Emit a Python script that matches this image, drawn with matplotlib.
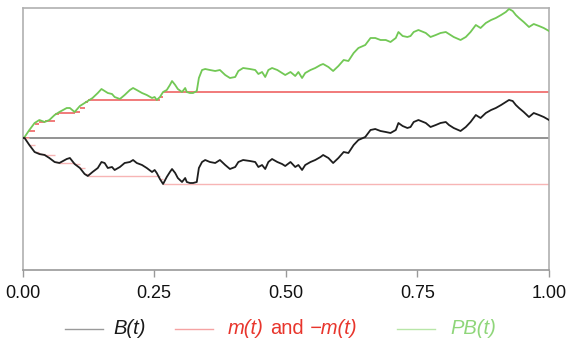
import numpy as np
import matplotlib
matplotlib.use("Agg")
import matplotlib.pyplot as plt
from matplotlib.lines import Line2D

plt.rcParams['font.family'] = ['Liberation Sans', 'DejaVu Sans']

# time grid
t = [0.000, 0.004, 0.013, 0.023, 0.032, 0.042, 0.051, 0.061, 0.070, 0.084,
     0.090, 0.099, 0.109, 0.118, 0.124, 0.133, 0.143, 0.150, 0.156, 0.162,
     0.170, 0.175, 0.185, 0.194, 0.204, 0.210, 0.217, 0.227, 0.236, 0.246,
     0.251, 0.255, 0.261, 0.267, 0.274, 0.280, 0.284, 0.290, 0.295, 0.303,
     0.309, 0.312, 0.318, 0.324, 0.331, 0.335, 0.341, 0.347, 0.356, 0.366,
     0.375, 0.385, 0.394, 0.404, 0.410, 0.419, 0.432, 0.442, 0.448, 0.455,
     0.461, 0.467, 0.474, 0.484, 0.493, 0.499, 0.509, 0.518, 0.524, 0.531,
     0.537, 0.547, 0.556, 0.566, 0.571, 0.581, 0.590, 0.600, 0.610, 0.619,
     0.629, 0.638, 0.651, 0.661, 0.670, 0.680, 0.690, 0.699, 0.709, 0.714,
     0.722, 0.731, 0.737, 0.743, 0.752, 0.766, 0.775, 0.785, 0.794, 0.804,
     0.810, 0.819, 0.832, 0.842, 0.851, 0.861, 0.870, 0.880, 0.890, 0.899,
     0.909, 0.918, 0.924, 0.931, 0.937, 0.943, 0.952, 0.962, 0.971, 0.981,
     0.990, 1.000]

# B(t)
b_vals = [0.00, 0.00, -0.07, -0.14, -0.16, -0.17, -0.20, -0.24, -0.25, -0.21,
          -0.20, -0.26, -0.30, -0.36, -0.38, -0.34, -0.30, -0.24, -0.25, -0.30,
          -0.29, -0.32, -0.29, -0.25, -0.24, -0.22, -0.25, -0.27, -0.30, -0.34,
          -0.32, -0.35, -0.41, -0.46, -0.39, -0.34, -0.31, -0.35, -0.40, -0.44,
          -0.40, -0.44, -0.45, -0.45, -0.44, -0.30, -0.24, -0.22, -0.24, -0.25,
          -0.22, -0.27, -0.31, -0.29, -0.24, -0.22, -0.23, -0.24, -0.29, -0.27,
          -0.31, -0.24, -0.21, -0.24, -0.26, -0.28, -0.24, -0.29, -0.27, -0.32,
          -0.27, -0.24, -0.22, -0.19, -0.17, -0.20, -0.25, -0.20, -0.14, -0.15,
          -0.07, -0.02, 0.01, 0.08, 0.09, 0.07, 0.06, 0.05, 0.08, 0.15,
          0.12, 0.10, 0.11, 0.16, 0.18, 0.15, 0.11, 0.13, 0.15, 0.16,
          0.13, 0.10, 0.07, 0.11, 0.16, 0.23, 0.20, 0.25, 0.28, 0.30,
          0.33, 0.36, 0.38, 0.37, 0.33, 0.30, 0.26, 0.21, 0.25, 0.23,
          0.21, 0.18]

# PB(t)
pb_vals = [0.00, 0.01, 0.08, 0.15, 0.18, 0.16, 0.18, 0.23, 0.26, 0.30,
           0.30, 0.26, 0.32, 0.35, 0.37, 0.40, 0.45, 0.49, 0.47, 0.45,
           0.44, 0.41, 0.39, 0.43, 0.48, 0.50, 0.48, 0.45, 0.43, 0.40,
           0.41, 0.38, 0.41, 0.46, 0.48, 0.53, 0.57, 0.53, 0.49, 0.46,
           0.50, 0.46, 0.45, 0.45, 0.47, 0.60, 0.68, 0.69, 0.68, 0.67,
           0.68, 0.63, 0.60, 0.61, 0.67, 0.70, 0.69, 0.68, 0.64, 0.66,
           0.61, 0.68, 0.70, 0.68, 0.65, 0.63, 0.66, 0.62, 0.66, 0.60,
           0.65, 0.68, 0.70, 0.73, 0.74, 0.71, 0.67, 0.72, 0.78, 0.77,
           0.85, 0.90, 0.93, 1.00, 1.00, 0.98, 0.98, 0.96, 1.00, 1.06,
           1.02, 1.01, 1.02, 1.06, 1.08, 1.05, 1.01, 1.03, 1.05, 1.06,
           1.04, 1.01, 0.98, 1.01, 1.06, 1.13, 1.10, 1.15, 1.18, 1.20,
           1.23, 1.26, 1.29, 1.27, 1.23, 1.20, 1.16, 1.11, 1.14, 1.12,
           1.10, 1.07]

# m(t) as steps (level holds from m_t[i] to m_t[i+1])
m_t = [0.0, 0.013, 0.023, 0.032, 0.042, 0.061, 0.070, 0.099, 0.109, 0.118,
       0.124, 0.261, 0.267, 1.0]
m_vals = [0.0, 0.07, 0.14, 0.16, 0.17, 0.24, 0.25, 0.26, 0.30, 0.36,
          0.38, 0.41, 0.46, 0.46]

x_ticks = [0.0, 0.25, 0.5, 0.75, 1.0]
x_labels = ['0.00', '0.25', '0.50', '0.75', '1.00']

W, H = 567, 338
fig = plt.figure(figsize=(W / 100, H / 100), dpi=100)
ax = fig.add_axes([22.5 / W, 1 - 270 / H, 526.5 / W, 262 / H])

m_arr = np.array(m_vals)
ax.axhline(0, color='#8a8a8a', lw=1.3, zorder=1)
ax.hlines(m_arr[:-1], m_t[:-1], m_t[1:], color='#f07070', lw=1.3, zorder=2)
ax.hlines(-m_arr[:-1], m_t[:-1], m_t[1:], color='#f7b5b5', lw=1.0, zorder=2)
ax.plot(t, pb_vals, color='#72c855', lw=1.3, zorder=3)
ax.plot(t, b_vals, color='#1e1e1e', lw=1.3, zorder=4)

ax.set_xlim(0, 1)
ax.set_ylim(-1.32, 1.30)
ax.set_yticks([])
ax.set_xticks(x_ticks)
ax.set_xticklabels(x_labels)
ax.tick_params(axis='x', length=5, width=1, color='#999999', pad=6,
               labelsize=13, labelcolor='#111111')
for s in ax.spines.values():
    s.set_color('#b0b0b0')
    s.set_linewidth(1.2)
ax.spines['bottom'].set_color('#999999')

# legend drawn by hand
ly = 1 - 329 / H
fig.add_artist(Line2D([65 / W, 103 / W], [ly, ly], color='#9a9a9a', lw=1.0))
fig.add_artist(Line2D([175 / W, 213 / W], [ly, ly], color='#f5a3a3', lw=1.0))
fig.add_artist(Line2D([397 / W, 435 / W], [ly, ly], color='#b8e6a8', lw=1.0))
fig.text(113 / W, ly, 'B(t)', style='italic', fontsize=14.5, color='#1a1a1a', va='center')
fig.text(228 / W, ly, 'm(t)', style='italic', fontsize=14.5, color='#e8352c', va='center')
fig.text(270 / W, ly, 'and', fontsize=14.5, color='#e8352c', va='center')
fig.text(310 / W, ly, '\u2212m(t)', style='italic', fontsize=14.5, color='#e8352c', va='center')
fig.text(450 / W, ly, 'PB(t)', style='italic', fontsize=14.5, color='#8fd67a', va='center')

fig.savefig('out.png', dpi=100)
